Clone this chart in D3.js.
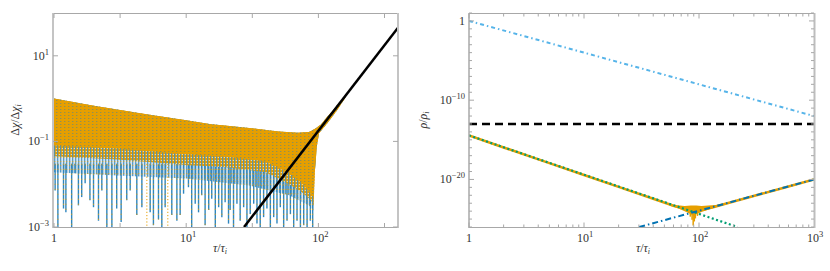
<!DOCTYPE html>
<html><head><meta charset="utf-8">
<script src="https://cdn.jsdelivr.net/npm/d3@7"></script>
<style>
body{margin:0;background:#fff}
svg{display:block}
</style>
</head><body>
<svg id="c" width="830" height="271" font-family="'Liberation Serif','Times New Roman','DejaVu Serif',serif"></svg>
<script>
// ---------- LEFT PANEL DATA ----------
const leftMajorX = [1, 10, 100];
const leftHalfX = [3.162, 31.62, 316.2];
const leftTicksY = [10, 0.1, 0.001];
// upper envelope of the oscillating band (tau, value)
const upperEnv = [[1,1.0],[2,0.68],[3,0.56],[5,0.43],[10,0.31],[15,0.255],[30,0.205],[50,0.17],[70,0.16],[85,0.165],[95,0.2],[105,0.25],[116,0.37],[127,0.5],[138,0.69],[150,0.88],[162,1.12]];
// lower edge of the solid orange part of the band
const bandLower = [[1,0.08],[3,0.068],[10,0.05],[20,0.044],[40,0.034],[60,0.018],[75,0.0105],[88,0.006],[92,0.0046],[94,0.02],[95.5,0.036],[97,0.072],[101,0.154],[116,0.26],[138,0.53],[162,1.12]];
// lower edge of the mixed orange/blue zone
const mixLower = [[1,0.045],[3,0.038],[10,0.028],[20,0.025],[40,0.019],[60,0.01],[75,0.0065],[88,0.0042],[92,0.0032],[94,0.02],[95.5,0.036],[97,0.072],[101,0.154],[116,0.26],[138,0.53],[162,1.12]];
// lower edge of the faint haze below it
const hazeLower = [[1,0.019],[3,0.016],[10,0.0136],[30,0.0093],[60,0.0055],[85,0.0032],[92,0.0024],[94,0.02],[95.5,0.036],[97,0.072],[101,0.154],[116,0.26],[138,0.53],[162,1.12]];
// downward spikes (tau, minimum value)
const spikes = [[1.02,0.0071],[1.07,0.0009],[1.18,0.0027],[1.23,0.0022],[1.36,0.0009],[1.44,0.018],[1.53,0.0032],[1.62,0.005],[1.72,0.0105],[1.87,0.0042],[1.99,0.0029],[2.17,0.0014],[2.30,0.0071],[2.51,0.0009],[2.74,0.0009],[2.98,0.0027],[3.22,0.0013],[3.55,0.0042],[3.77,0.0071],[4.23,0.0019],[4.62,0.0029],[5.34,0.0022],[5.65,0.0011],[6.17,0.0015],[6.54,0.0009],[6.93,0.0029],[7.78,0.0019],[8.5,0.0014],[9.0,0.0019],[9.55,0.006],[10.4,0.0085],[11.0,0.0009],[11.7,0.0035],[12.4,0.0022],[13.1,0.0055],[13.9,0.0011],[14.8,0.0025],[15.6,0.0046],[16.6,0.0009],[17.6,0.0029],[18.6,0.0017],[19.7,0.0038],[20.9,0.0012],[21.5,0.0025],[22.8,0.0009],[24.2,0.0035],[25.6,0.0014],[27.2,0.0029],[28.8,0.0009],[30.5,0.002],[32.4,0.0035],[34.3,0.0012],[36.3,0.0009],[38.5,0.0017],[40.8,0.0027],[43.3,0.0009],[45.9,0.0017],[48.6,0.0012],[51.5,0.0029],[54.6,0.0009],[57.9,0.0014],[61.4,0.002],[65.0,0.0009],[68.9,0.0014],[73.1,0.0009],[77.4,0.0011],[82.1,0.0009],[86.9,0.0014],[90.5,0.0009]];
const orangeSpikes = [[5.04,0.0009],[7.26,0.0009]];
const growthLine = [[27.4,0.001],[400,45.2]];

// ---------- RIGHT PANEL DATA ----------
const rightMajorX = [1, 10, 100, 1000];
const rightLabelY = [1, 1e-10, 1e-20];
const radiation = [[1,1],[1000,1e-12]];
const constant = [[1,1e-13],[1000,1e-13]];
const decaying = [[1,3.55e-15],[216,1e-26]];
const growing = [[30.2,1e-26],[1000,1e-20]];
const total = [[1,3.6e-15],[2,1.1e-16],[5,1.15e-18],[10,3.6e-20],[20,1.15e-21],[40,3.6e-23],[60,4.8e-24],[75,1.9e-24],[85,1.2e-24],[90,1.0e-24],[95,1.1e-24],[110,1.6e-24],[130,2.9e-24],[200,1.6e-23],[500,6.3e-22],[1000,1e-20]];
const totalBand = [[55,8e-24,5e-24],[65,5.5e-24,2.5e-24],[75,4.5e-24,1.0e-24],[85,5e-24,4e-25],[90,5e-24,2.5e-25],[95,5e-24,4e-25],[105,4.5e-24,8e-25],[120,5e-24,1.5e-24],[140,6e-24,3e-24],[170,1.1e-23,7e-24]];
const totalSpikes = [[84,2e-25],[87,8e-26],[89,1.5e-26],[91,5e-26],[93,1.2e-25],[97,2.5e-25]];

// ---------- DRAW ----------
const svg = d3.select("#c");
const defs = svg.append("defs");
const pat = defs.append("pattern").attr("id","dots").attr("width",4).attr("height",3).attr("patternUnits","userSpaceOnUse");
pat.append("rect").attr("width",4).attr("height",3).attr("fill","#E69F00");
pat.append("rect").attr("x",0).attr("y",1).attr("width",1.4).attr("height",1).attr("fill","#2a7fb8").attr("opacity",0.45);
const mx = defs.append("pattern").attr("id","mix").attr("width",3).attr("height",3).attr("patternUnits","userSpaceOnUse");
mx.append("rect").attr("width",3).attr("height",3).attr("fill","#E69F00");
mx.append("rect").attr("x",0).attr("y",0).attr("width",1.2).attr("height",3).attr("fill","#3f8fc3").attr("opacity",0.8);
mx.append("rect").attr("x",1.8).attr("y",1).attr("width",1.2).attr("height",1).attr("fill","#e8eef2").attr("opacity",0.7);
const hz = defs.append("pattern").attr("id","haze").attr("width",3).attr("height",4).attr("patternUnits","userSpaceOnUse");
hz.append("rect").attr("width",3).attr("height",4).attr("fill","#dbe7ee");
hz.append("rect").attr("x",0).attr("y",0).attr("width",1.3).attr("height",4).attr("fill","#3f8fc3").attr("opacity",0.85);
hz.append("rect").attr("x",0).attr("y",1).attr("width",1.3).attr("height",1).attr("fill","#E69F00").attr("opacity",0.6);

const GRID = "#a8a8a8";
const TXT = "#333";
function sup(sel, base, exp){
  sel.append("tspan").text(base);
  if(exp!==null) sel.append("tspan").attr("dy",-5).attr("font-size",8.5).text(exp);
}
function polyPath(xs, ys, upper, lower){
  const pts = upper.map(d=>[xs(d[0]),ys(d[1])]).concat(lower.slice().reverse().map(d=>[xs(d[0]),ys(d[1])]));
  return "M"+pts.map(p=>p[0].toFixed(2)+","+p[1].toFixed(2)).join("L")+"Z";
}
function txt(x,y,anchor){
  return svg.append("text").attr("x",x).attr("y",y).attr("text-anchor",anchor).attr("font-size",12)
    .attr("fill",TXT).attr("font-family","'Liberation Serif','Times New Roman','DejaVu Serif',serif");
}

// LEFT
const xL = d3.scaleLog().domain([1,400]).range([54,398]);
const yL = d3.scaleLog().domain([1e-3,1e2]).range([227,13]);
defs.append("clipPath").attr("id","clipL").append("rect").attr("x",54).attr("y",13).attr("width",344).attr("height",214);
const gL = svg.append("g").attr("clip-path","url(#clipL)");
const lineL = d3.line().x(d=>xL(d[0])).y(d=>yL(d[1]));

gL.append("path").attr("d",polyPath(xL,yL,upperEnv,hazeLower)).attr("fill","url(#haze)");
gL.selectAll(".sp").data(spikes).join("line")
  .attr("x1",d=>xL(d[0])).attr("x2",d=>xL(d[0]))
  .attr("y1",yL(0.03)).attr("y2",d=>yL(d[1]))
  .attr("stroke","#2f86bf").attr("stroke-width",1.4);
gL.selectAll(".spo").data(spikes).join("line")
  .attr("x1",d=>xL(d[0])).attr("x2",d=>xL(d[0]))
  .attr("y1",yL(0.03)).attr("y2",d=>yL(d[1]))
  .attr("stroke","#E69F00").attr("stroke-width",1).attr("stroke-dasharray","1,4");
gL.selectAll(".os").data(orangeSpikes).join("line")
  .attr("x1",d=>xL(d[0])).attr("x2",d=>xL(d[0]))
  .attr("y1",yL(0.03)).attr("y2",d=>yL(d[1]))
  .attr("stroke","#E69F00").attr("stroke-width",1).attr("stroke-dasharray","1.2,2");
gL.append("path").attr("d",polyPath(xL,yL,upperEnv,mixLower)).attr("fill","url(#mix)");
gL.append("path").attr("d",polyPath(xL,yL,upperEnv,bandLower)).attr("fill","url(#dots)");
gL.append("path").attr("d",lineL(growthLine)).attr("fill","none").attr("stroke","#000").attr("stroke-width",2.5);

// left frame
svg.append("line").attr("x1",53).attr("x2",399).attr("y1",13.5).attr("y2",13.5).attr("stroke",GRID);
svg.append("line").attr("x1",53).attr("x2",399).attr("y1",227.5).attr("y2",227.5).attr("stroke",GRID);
svg.append("line").attr("x1",53).attr("x2",53).attr("y1",13).attr("y2",228).attr("stroke","#c4c4c4").attr("stroke-width",2);
svg.append("line").attr("x1",398).attr("x2",398).attr("y1",13).attr("y2",228).attr("stroke","#c4c4c4").attr("stroke-width",2);
// left ticks
leftMajorX.concat(leftHalfX).forEach(t=>{
  const x = xL(t); if(x>398) return;
  svg.append("line").attr("x1",x).attr("x2",x).attr("y1",13.5).attr("y2",18).attr("stroke",GRID);
  svg.append("line").attr("x1",x).attr("x2",x).attr("y1",227.5).attr("y2",223).attr("stroke",GRID);
});
leftTicksY.forEach(t=>{
  const y = yL(t);
  svg.append("line").attr("x1",53).attr("x2",58).attr("y1",y).attr("y2",y).attr("stroke",GRID);
  svg.append("line").attr("x1",398).attr("x2",393).attr("y1",y).attr("y2",y).attr("stroke",GRID);
});
// left labels
leftMajorX.forEach(t=>{
  const tx = txt(xL(t)+(t===1?0:2),242,"middle");
  if(t===1) sup(tx,"1",null); else sup(tx,"10",String(Math.round(Math.log10(t))));
});
leftTicksY.forEach(t=>{
  const e = Math.round(Math.log10(t));
  const tx = txt(49,yL(t)+4,"end");
  sup(tx,"10",String(e).replace("-","\u2212"));
});
{
  const tx = txt(220,252,"middle");
  tx.append("tspan").attr("font-style","italic").text("τ");
  tx.append("tspan").text("/");
  tx.append("tspan").attr("font-style","italic").text("τ");
  tx.append("tspan").attr("font-style","italic").attr("font-size",8).attr("dy",2).text("i");
}
{
  const tx = txt(0,0,"middle").attr("transform","translate(19,120) rotate(-90)");
  tx.append("tspan").text("Δ");
  tx.append("tspan").attr("font-style","italic").text("χ");
  tx.append("tspan").text("/Δ");
  tx.append("tspan").attr("font-style","italic").text("χ");
  tx.append("tspan").attr("font-style","italic").attr("font-size",8).attr("dy",2).text("i");
}

// RIGHT
const xR = d3.scaleLog().domain([1,1000]).range([469,814]);
const yR = d3.scaleLog().domain([1e-26,10]).range([227,13]);
defs.append("clipPath").attr("id","clipR").append("rect").attr("x",469).attr("y",13).attr("width",345).attr("height",214);
const gR = svg.append("g").attr("clip-path","url(#clipR)");
const lineR = d3.line().x(d=>xR(d[0])).y(d=>yR(d[1]));

gR.append("path").attr("d",lineR(total)).attr("fill","none").attr("stroke","#E69F00").attr("stroke-width",2.6);
gR.append("path").attr("d",polyPath(xR,yR,totalBand.map(d=>[d[0],d[1]]),totalBand.map(d=>[d[0],d[2]]))).attr("fill","#E69F00");
gR.selectAll(".ts").data(totalSpikes).join("line")
  .attr("x1",d=>xR(d[0])).attr("x2",d=>xR(d[0]))
  .attr("y1",yR(1e-24)).attr("y2",d=>yR(d[1]))
  .attr("stroke","#E69F00").attr("stroke-width",1.5);
gR.append("path").attr("d",lineR(radiation)).attr("fill","none").attr("stroke","#56B4E9").attr("stroke-width",2).attr("stroke-dasharray","4,3,1.5,3");
gR.append("path").attr("d",lineR(constant)).attr("fill","none").attr("stroke","#000").attr("stroke-width",2.4).attr("stroke-dasharray","8,5");
gR.append("path").attr("d",lineR(decaying)).attr("fill","none").attr("stroke","#009E73").attr("stroke-width",2.2).attr("stroke-dasharray","2,2.5");
gR.append("path").attr("d",lineR(growing)).attr("fill","none").attr("stroke","#0072B2").attr("stroke-width",2).attr("stroke-dasharray","6,3,1.5,3");

// right frame
svg.append("line").attr("x1",469).attr("x2",815).attr("y1",13.5).attr("y2",13.5).attr("stroke",GRID);
svg.append("line").attr("x1",469).attr("x2",815).attr("y1",227.5).attr("y2",227.5).attr("stroke",GRID);
svg.append("line").attr("x1",469).attr("x2",469).attr("y1",13).attr("y2",228).attr("stroke",GRID).attr("stroke-width",1.5);
svg.append("line").attr("x1",814.5).attr("x2",814.5).attr("y1",13).attr("y2",228).attr("stroke","#bdbdbd").attr("stroke-width",2);
// right x ticks
for(let k=0;k<3;k++){
  for(let m=1;m<10;m++){
    const t = m*Math.pow(10,k);
    const x = xR(t), len = m===1?5:3;
    svg.append("line").attr("x1",x).attr("x2",x).attr("y1",13.5).attr("y2",13.5+len).attr("stroke",GRID);
    svg.append("line").attr("x1",x).attr("x2",x).attr("y1",227.5).attr("y2",227.5-len).attr("stroke",GRID);
  }
}
// right y ticks, one per decade
for(let e=-26;e<=1;e++){
  const y = yR(Math.pow(10,e)), len = (e%10===0)?5:3;
  svg.append("line").attr("x1",469).attr("x2",469+len).attr("y1",y).attr("y2",y).attr("stroke",GRID);
  svg.append("line").attr("x1",814).attr("x2",814-len).attr("y1",y).attr("y2",y).attr("stroke",GRID);
}
rightMajorX.forEach(t=>{
  const tx = txt(xR(t)+(t===1?0:1),242,"middle");
  if(t===1) sup(tx,"1",null); else sup(tx,"10",String(Math.round(Math.log10(t))));
});
rightLabelY.forEach(t=>{
  const e = Math.round(Math.log10(t));
  const tx = txt(465,yR(t)+4,"end");
  if(e===0) sup(tx,"1",null); else sup(tx,"10",String(e).replace("-","\u2212"));
});
{
  const tx = txt(643,252,"middle");
  tx.append("tspan").attr("font-style","italic").text("τ");
  tx.append("tspan").text("/");
  tx.append("tspan").attr("font-style","italic").text("τ");
  tx.append("tspan").attr("font-style","italic").attr("font-size",8).attr("dy",2).text("i");
}
{
  const tx = txt(0,0,"middle").attr("transform","translate(427,120) rotate(-90)");
  tx.append("tspan").attr("font-style","italic").text("ρ");
  tx.append("tspan").text("/");
  tx.append("tspan").attr("font-style","italic").text("ρ");
  tx.append("tspan").attr("font-style","italic").attr("font-size",8).attr("dy",2).text("i");
}
</script>
</body></html>
